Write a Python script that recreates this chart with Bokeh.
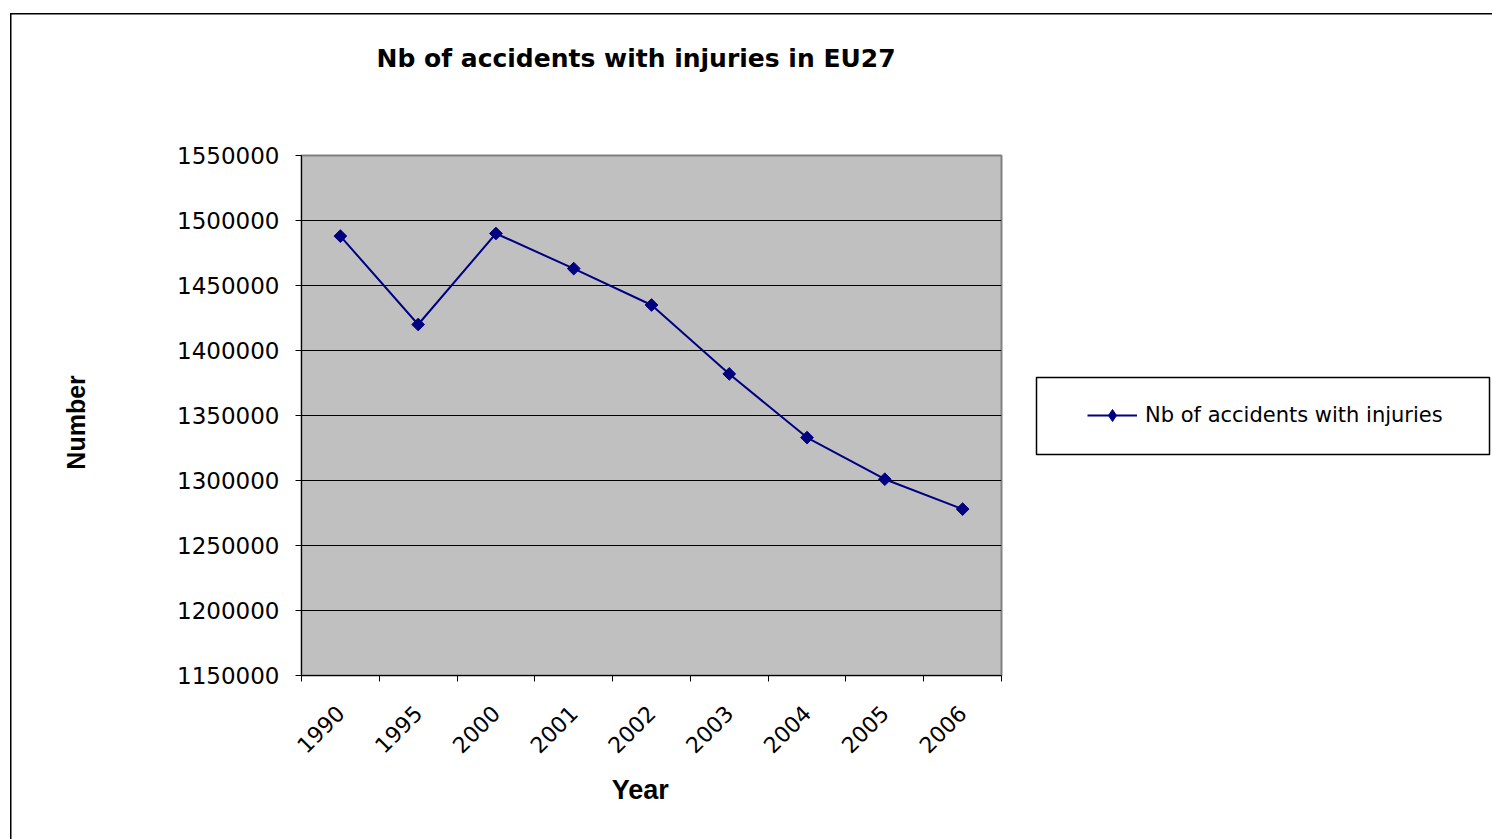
import numpy as np
from bokeh.plotting import figure
from bokeh.layouts import row
from bokeh.models import (Range1d, FixedTicker, BasicTickFormatter, BoxAnnotation,
                          Legend, LegendItem, ColumnDataSource)
from bokeh.embed import file_html
from bokeh.resources import INLINE

# ---- data ----
years = ["1990", "1995", "2000", "2001", "2002", "2003", "2004", "2005", "2006"]
accidents = [1488000, 1420000, 1490000, 1463000, 1435000, 1382000, 1333000, 1301000, 1278000]
y_ticks = [1150000, 1200000, 1250000, 1300000, 1350000, 1400000, 1450000, 1500000, 1550000]
title_text = "Nb of accidents with injuries in EU27"
series_name = "Nb of accidents with injuries"
x_title = "Year"
y_title = "Number"

x_pos = [i + 0.5 for i in range(len(years))]
boundaries = list(range(len(years) + 1))

NAVY = "#000080"
NBSP = "\u00a0"

# ---------------- main chart ----------------
p = figure(width=1020, height=839, output_backend="svg", toolbar_location=None,
           x_range=Range1d(0, len(years)), y_range=Range1d(y_ticks[0], y_ticks[-1]),
           min_border_left=301, min_border_right=19, min_border_top=155,
           min_border_bottom=164)

p.background_fill_color = "#C0C0C0"
p.border_fill_alpha = 0
p.outline_line_color = "#808080"
p.outline_line_width = 2
p.styles = {"background": "linear-gradient(#000,#000) 10px 13px / 1.5px 100% no-repeat, "
                          "linear-gradient(#000,#000) 10px 13px / 100% 1.5px no-repeat, #fff"}

# title (extra blank lines lift it away from the plot area)
p.title.text = title_text + "\n" + NBSP + "\n" + NBSP
p.title.align = "left"
p.title.vertical_align = "top"
p.title.offset = 75
p.title.standoff = 45
p.title.text_font = "DejaVu Sans"
p.title.text_font_style = "bold"
p.title.text_font_size = "25px"
p.title.text_color = "black"

# y axis
p.yaxis.ticker = FixedTicker(ticks=y_ticks)
p.yaxis.formatter = BasicTickFormatter(use_scientific=False)
p.yaxis.major_tick_out = 6
p.yaxis.major_tick_in = 0
p.yaxis.minor_tick_line_color = None
p.yaxis.axis_line_color = "black"
p.yaxis.major_tick_line_color = "black"
p.yaxis.major_label_standoff = 16
p.yaxis.major_label_text_font = "DejaVu Sans"
p.yaxis.major_label_text_font_size = "23px"
p.yaxis.major_label_text_color = "black"
p.yaxis.axis_label = y_title + NBSP * 2
p.yaxis.axis_label_standoff = 84
p.yaxis.axis_label_text_font = "Liberation Sans"
p.yaxis.axis_label_text_font_style = "bold"
p.yaxis.axis_label_text_font_size = "25px"
p.yaxis.axis_label_text_color = "black"

# x axis: labels at category centres, tick marks at boundaries
p.xaxis.ticker = FixedTicker(ticks=x_pos, minor_ticks=boundaries)
p.xaxis.major_label_overrides = {x: y for x, y in zip(x_pos, years)}
p.xaxis.major_tick_out = 0
p.xaxis.major_tick_in = 0
p.xaxis.minor_tick_out = 6
p.xaxis.minor_tick_in = 0
p.xaxis.minor_tick_line_color = "black"
p.xaxis.axis_line_color = "black"
p.xaxis.major_label_orientation = np.pi / 4
p.xaxis.major_label_standoff = 28
p.xaxis.major_label_text_font = "DejaVu Sans"
p.xaxis.major_label_text_font_size = "22px"
p.xaxis.major_label_text_color = "black"
p.xaxis.axis_label = x_title + NBSP * 3
p.xaxis.axis_label_standoff = 12
p.xaxis.axis_label_text_font = "Liberation Sans"
p.xaxis.axis_label_text_font_style = "bold"
p.xaxis.axis_label_text_font_size = "27px"
p.xaxis.axis_label_text_color = "black"

p.xgrid.visible = False
p.ygrid.ticker = FixedTicker(ticks=y_ticks)
p.ygrid.grid_line_color = "black"
p.ygrid.grid_line_width = 1

src = ColumnDataSource(dict(x=x_pos, y=accidents))
p.line("x", "y", source=src, line_color=NAVY, line_width=2)
p.scatter("x", "y", source=src, marker="square", size=9, angle=np.pi / 4,
          fill_color=NAVY, line_color=NAVY)

# ---------------- legend panel (frame aligned with the main plot area) ----------------
q = figure(width=472, height=839, output_backend="svg", toolbar_location=None,
           title=None, x_axis_location=None, y_axis_location=None,
           x_range=Range1d(0, 1), y_range=Range1d(0, 1), min_border=0)
q.outline_line_color = None
q.grid.visible = False
q.background_fill_alpha = 0
q.border_fill_alpha = 0
q.styles = {"background": "linear-gradient(#000,#000) 0 13px / 100% 1.5px no-repeat, #fff"}

# legend sample glyphs (same series; its values fall outside this panel's range)
lg_line = q.line("x", "y", source=src, line_color=NAVY, line_width=2)
lg_pt = q.scatter("x", "y", source=src, marker="diamond", size=13,
                  fill_color=NAVY, line_color=NAVY)

q.add_layout(BoxAnnotation(left=16, right=469, bottom=221, top=298,
                           left_units="screen", right_units="screen",
                           top_units="screen", bottom_units="screen",
                           fill_color="white", fill_alpha=1, line_color="black",
                           line_width=1.5, line_alpha=1))
q.add_layout(Legend(items=[LegendItem(label=series_name, renderers=[lg_line, lg_pt])],
                    location=(67, 245), padding=0, margin=0,
                    border_line_alpha=0, background_fill_alpha=0,
                    glyph_width=50, glyph_height=30, label_standoff=8,
                    label_text_font="DejaVu Sans", label_text_font_size="21px",
                    label_text_color="black"))

layout = row(p, q, spacing=0)
open("out.html", "w").write(file_html(layout, INLINE))
